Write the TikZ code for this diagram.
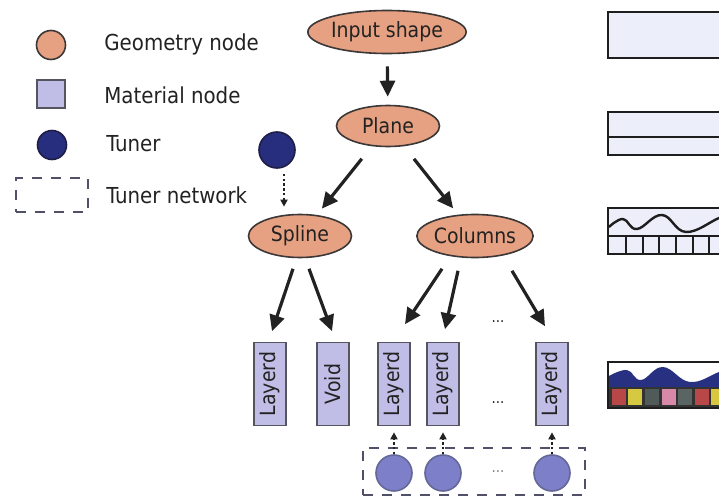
\documentclass[tikz,border=0pt]{standalone}
\usepackage{fontspec}
\setmainfont{DejaVu Sans Condensed}
\usetikzlibrary{shapes.geometric,arrows.meta}
\definecolor{txt}{RGB}{34,34,34}
\definecolor{geomfill}{RGB}{229,161,129}
\definecolor{geomline}{RGB}{60,55,55}
\definecolor{matfill}{RGB}{192,190,230}
\definecolor{matline}{RGB}{85,85,95}
\definecolor{tunerfill}{RGB}{38,46,125}
\definecolor{tunerline}{RGB}{30,30,70}
\definecolor{netfill}{RGB}{125,128,200}
\definecolor{netline}{RGB}{100,104,150}
\definecolor{boxline}{RGB}{80,80,105}
\definecolor{arrline}{RGB}{34,34,34}
\definecolor{panelfill}{RGB}{236,239,250}
\definecolor{panelline}{RGB}{30,30,30}
\definecolor{waveblue}{RGB}{40,48,130}
\definecolor{sqred}{RGB}{184,72,72}
\definecolor{sqyellow}{RGB}{214,200,64}
\definecolor{sqgreen}{RGB}{80,90,88}
\definecolor{sqpink}{RGB}{216,136,168}
\definecolor{sqgray}{RGB}{90,100,98}
\begin{document}
\begin{tikzpicture}[x=0.5pt,y=-0.5pt,
	geom/.style={ellipse,draw=geomline,line width=0.8pt,fill=geomfill,minimum height=21.5pt,inner sep=0pt,font=\fontsize{10.5}{12}\selectfont,text=txt},
	mat/.style={rectangle,draw=matline,line width=0.8pt,fill=matfill,minimum width=16pt,minimum height=41.5pt,inner sep=0pt,font=\fontsize{10.5}{12}\selectfont,text=txt},
	tuner/.style={circle,draw=tunerline,line width=0.8pt,fill=tunerfill,minimum size=18pt,inner sep=0pt},
	netnode/.style={circle,draw=netline,line width=0.8pt,fill=netfill,minimum size=18pt,inner sep=0pt},
	netbox/.style={draw=boxline,line width=1pt,dash pattern=on 5pt off 4.5pt,inner sep=0pt},
	arr/.style={draw=arrline,line width=1.6pt,-{Triangle[length=8pt,width=7.5pt]}},
	dotarr/.style={draw=arrline,line width=0.9pt,dash pattern=on 1.2pt off 1.2pt,-{Triangle[length=3.5pt,width=3.5pt]}},
	legtext/.style={anchor=west,inner sep=0pt,font=\fontsize{11}{13}\selectfont,text=txt},
	dots/.style={inner sep=0pt,font=\fontsize{7.5}{9}\selectfont,text=txt},
	panel/.style={draw=panelline,line width=1.3pt,fill=panelfill}]
	\useasboundingbox (0,0) rectangle (719,498);
	\node[geom,circle,minimum size=14.5pt] (lgeom) at (51,45) {};
	\node[mat,minimum width=14pt,minimum height=14pt] (lmat) at (51,94) {};
	\node[tuner,minimum size=14.5pt] (ltuner) at (52,145) {};
	\node[netbox,minimum width=36pt,minimum height=17pt] (lnet) at (52,195) {};
	\node[legtext] (tgeom) at (104,44) {Geometry node};
	\node[legtext] (tmat) at (104,95) {Material node};
	\node[legtext] (ttuner) at (106,144) {Tuner};
	\node[legtext] (tnet) at (106,195) {Tuner network};
	\node[geom,minimum width=69pt] (input) at (387,32) {Input shape};
	\node[geom,minimum width=51.5pt,minimum height=20.5pt] (plane) at (388,126) {Plane};
	\node[geom,minimum width=51.5pt] (spline) at (300,236) {Spline};
	\node[geom,minimum width=52pt] (columns) at (475,236) {Columns};
	\node[tuner] (tunA) at (277,150) {};
	\node[mat] (layA) at (270,384) {\rotatebox{90}{Layerd}};
	\node[mat] (void) at (333,384) {\rotatebox{90}{Void}};
	\node[mat] (layB) at (394,384) {\rotatebox{90}{Layerd}};
	\node[mat] (layC) at (443,384) {\rotatebox{90}{Layerd}};
	\node[mat] (layD) at (552,384) {\rotatebox{90}{Layerd}};
	\node[dots] (dotsA) at (498,322) {...};
	\node[dots] (dotsB) at (498,403) {...};
	\node[netnode] (netA) at (394,473) {};
	\node[netnode] (netB) at (443,473) {};
	\node[netnode] (netC) at (552,473) {};
	\node[dots,text=gray] (dotsC) at (498,472) {...};
	\node[netbox,minimum width=111pt,minimum height=23.5pt] (net) at (474,471.5) {};
	\draw[arr,shorten <=6pt,shorten >=4pt] (input) -- (plane);
	\draw[arr,shorten <=8pt,shorten >=4pt] (plane) -- (spline);
	\draw[arr,shorten <=8pt,shorten >=4pt] (plane) -- (columns);
	\draw[arr] ([xshift=-3.5pt,yshift=-5.25pt]spline.south) -- ([xshift=1pt,yshift=5.25pt]layA.north);
	\draw[arr] ([xshift=4.5pt,yshift=-5.25pt]spline.south) -- ([xshift=-0.5pt,yshift=5.25pt]void.north);
	\draw[arr] ([xshift=-16.5pt,yshift=-5.25pt]columns.south) -- ([xshift=5.5pt,yshift=8.75pt]layB.north);
	\draw[arr] ([xshift=-8.5pt,yshift=-6.25pt]columns.south) -- ([xshift=1pt,yshift=6.25pt]layC.north);
	\draw[arr] ([xshift=18.5pt,yshift=-6.25pt]columns.south) -- ([xshift=-3.5pt,yshift=7.75pt]layD.north);
	\draw[dotarr] ([xshift=3.5pt,yshift=-2.5pt]tunA.south) -- ([xshift=-8pt,yshift=3.5pt]spline.north);
	\draw[dotarr] (netA.north) -- ([yshift=-3pt]layB.south);
	\draw[dotarr] (netB.north) -- ([yshift=-3pt]layC.south);
	\draw[dotarr] (netC.north) -- ([yshift=-3pt]layD.south);
	\begin{scope}
	\clip (0,0) rectangle (719,498);
	\draw[panel] (608,12) rectangle (740,58);
	\draw[panel] (608,112) rectangle (740,155);
	\draw[panel] (608,137) -- (740,137);
	\draw[panel] (608,208) rectangle (740,254);
	\draw[panel] (608,236) -- (740,236);
	\draw[panelline,line width=1.2pt] plot[smooth,tension=0.7] coordinates {(609,227) (623,219) (637,229) (662,215) (686,232) (719,218) (735,212)};
	\foreach \xa in {626,643,659,676,693,709}
		\draw[panelline,line width=1.2pt] (\xa,236) -- (\xa,254);
	\fill[white] (608,362) rectangle (740,408);
	\fill[waveblue] (609,388) -- plot[smooth,tension=0.7] coordinates {(609,376) (627,370) (641,380) (663,367) (690,382) (719,372) (735,366)} -- (735,388) -- cycle;
	\fill[black!80] (609,387) rectangle (740,407);
	\foreach \xa/\col in {612/sqred,628/sqyellow,645/sqgreen,662/sqpink,678/sqgray,695/sqred,711/sqyellow}
		\fill[\col] (\xa,389) rectangle ++(14,16);
	\draw[panelline,line width=1.3pt] (608,362) rectangle (740,408);
	\end{scope}
\end{tikzpicture}
\end{document}
